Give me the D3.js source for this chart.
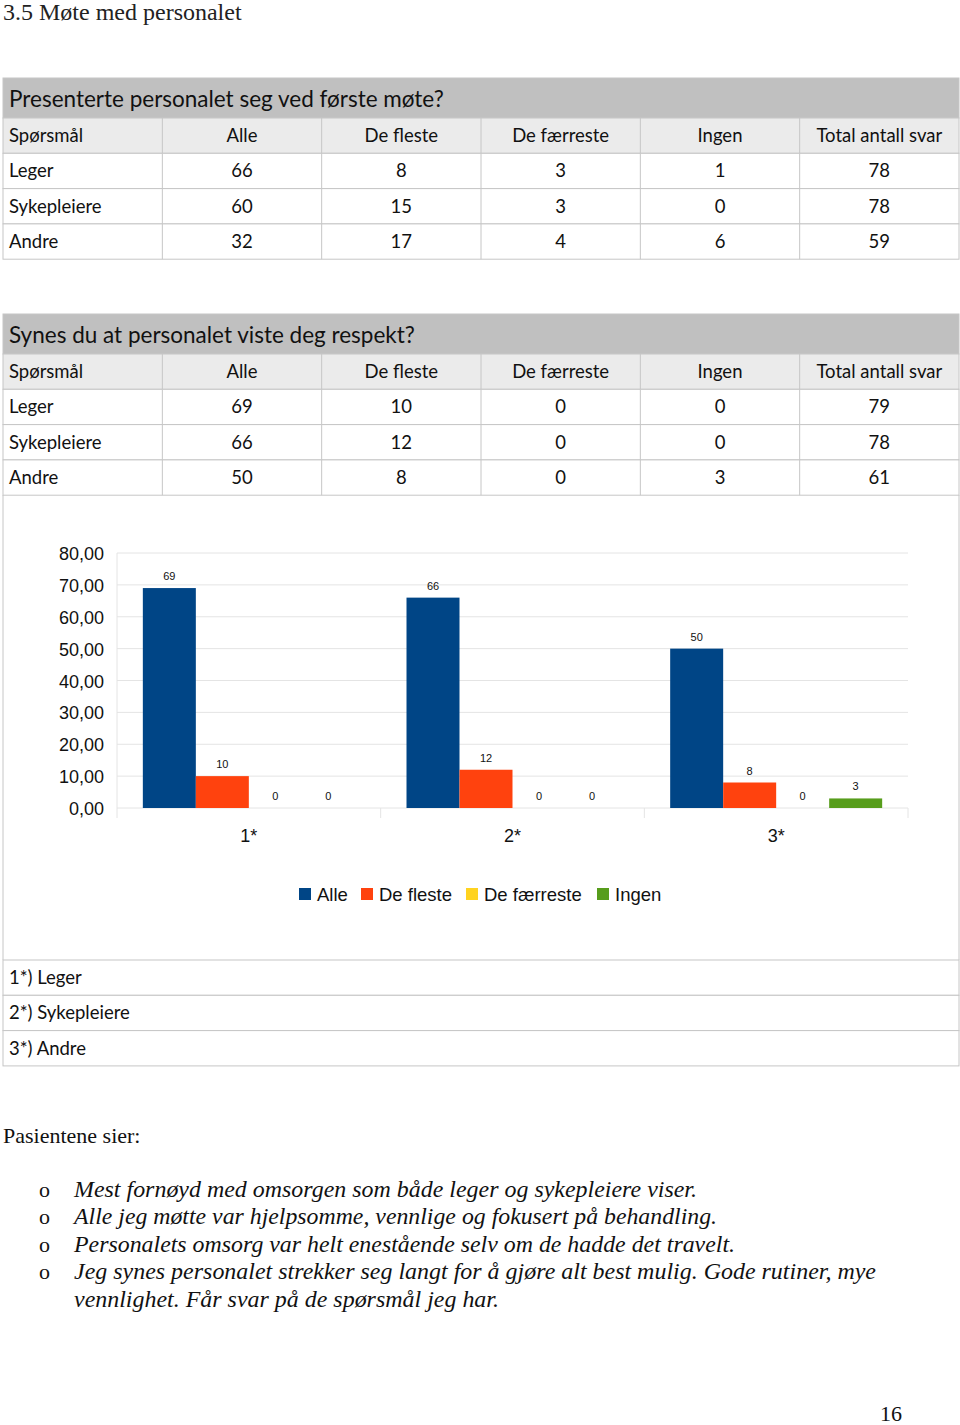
<!DOCTYPE html>
<html><head><meta charset="utf-8">
<script src="https://cdn.jsdelivr.net/npm/d3@7"></script>
<style>body{margin:0;background:#fff}svg{display:block}</style>
</head><body>
<script>
// ---- data ----
const columns = ["Spørsmål","Alle","De fleste","De færreste","Ingen","Total antall svar"];
const rowNames = ["Leger","Sykepleiere","Andre"];
const t1Title = "Presenterte personalet seg ved første møte?";
const t1Alle = [66,60,32], t1Fleste = [8,15,17], t1Faerreste = [3,3,4], t1Ingen = [1,0,6], t1Total = [78,78,59];
const t2Title = "Synes du at personalet viste deg respekt?";
const t2Alle = [69,66,50], t2Fleste = [10,12,8], t2Faerreste = [0,0,0], t2Ingen = [0,0,3], t2Total = [79,78,61];

const categories = ["1*","2*","3*"];
const seriesNames = ["Alle","De fleste","De færreste","Ingen"];
const seriesColors = ["#004586","#ff420e","#ffd320","#579d1c"];
const chartAlle = [69,66,50], chartFleste = [10,12,8], chartFaerreste = [0,0,0], chartIngen = [0,0,3];
const yTicks = [0,10,20,30,40,50,60,70,80];
const footnotes = ["1*) Leger","2*) Sykepleiere","3*) Andre"];
const quotes = [
 "Mest fornøyd med omsorgen som både leger og sykepleiere viser.",
 "Alle jeg møtte var hjelpsomme, vennlige og fokusert på behandling.",
 "Personalets omsorg var helt enestående selv om de hadde det travelt.",
 "Jeg synes personalet strekker seg langt for å gjøre alt best mulig. Gode rutiner, mye",
 "vennlighet. Får svar på de spørsmål jeg har."
];

const W = 960, H = 1425;
const svg = d3.select("body").append("svg").attr("width",W).attr("height",H);
const tableFont = "Lato, 'Open Sans', sans-serif";
const serif = "'Liberation Serif', 'DejaVu Serif', serif";
const border = "#c6c6c6";

svg.append("text").attr("x",3).attr("y",20).attr("font-family",serif).attr("font-size",24)
  .attr("fill","#222").text("3.5 Møte med personalet");

const colX = d3.range(7).map(i => 3 + i*(956/6));

function drawTable(top, title, cols) {
  const g = svg.append("g");
  g.append("rect").attr("x",3).attr("y",top).attr("width",956).attr("height",40).attr("fill","#c0c0c0").attr("stroke",border);
  g.append("text").attr("x",9).attr("y",top+29).attr("font-family",tableFont).attr("font-size",22.5).attr("fill","#111").text(title);
  const rowsTop = top+40;
  const rh = 35.3;
  const all = [columns].concat(rowNames.map((r,i)=>[r].concat(cols.map(c=>c[i]))));
  all.forEach((row,ri)=>{
    const y = rowsTop + ri*rh;
    g.append("rect").attr("x",3).attr("y",y).attr("width",956).attr("height",rh)
      .attr("fill", ri===0 ? "#ebebeb" : "#fff").attr("stroke",border);
    row.forEach((v,ci)=>{
      if (ci>0) g.append("line").attr("x1",colX[ci]).attr("x2",colX[ci]).attr("y1",y).attr("y2",y+rh).attr("stroke",border);
      g.append("text").attr("x", ci===0 ? 9 : (colX[ci]+colX[ci+1])/2).attr("y",y+24)
        .attr("text-anchor", ci===0 ? "start" : "middle")
        .attr("font-family",tableFont).attr("font-size",18.5).attr("fill","#111").text(v);
    });
  });
}
drawTable(78, t1Title, [t1Alle,t1Fleste,t1Faerreste,t1Ingen,t1Total]);
drawTable(314, t2Title, [t2Alle,t2Fleste,t2Faerreste,t2Ingen,t2Total]);

// chart box borders
svg.append("line").attr("x1",3).attr("x2",3).attr("y1",495).attr("y2",960).attr("stroke",border);
svg.append("line").attr("x1",959).attr("x2",959).attr("y1",495).attr("y2",960).attr("stroke",border);

// ---- chart ----
const chartFont = "'Liberation Sans', Arial, sans-serif";
const x0 = d3.scaleBand().domain(categories).range([117,908]).paddingInner(0).paddingOuter(0);
const x1 = d3.scaleBand().domain(seriesNames).range([0,x0.bandwidth()]).paddingInner(0).paddingOuter(0.4875);
const y = d3.scaleLinear().domain([0,80]).range([808,553]);
const cg = svg.append("g");
cg.selectAll("line.grid").data(yTicks).join("line").attr("class","grid")
  .attr("x1",117).attr("x2",908).attr("y1",d=>y(d)).attr("y2",d=>y(d)).attr("stroke","#e4e4e4");
cg.append("line").attr("x1",117).attr("x2",117).attr("y1",553).attr("y2",818).attr("stroke","#e4e4e4");
categories.forEach(c=>{
  const xe = x0(c)+x0.bandwidth();
  cg.append("line").attr("x1",xe).attr("x2",xe).attr("y1",y(0)).attr("y2",y(0)+10).attr("stroke","#e4e4e4");
});
// y labels
cg.selectAll("text.yl").data(yTicks).join("text").attr("class","yl")
  .attr("x",104).attr("y",d=>y(d)+7).attr("text-anchor","end").attr("font-family",chartFont).attr("font-size",18)
  .attr("fill","#111").text(d=>d3.format(".2f")(d).replace(".",","));
// category labels
cg.selectAll("text.cl").data(categories).join("text").attr("class","cl")
  .attr("x",d=>x0(d)+x0.bandwidth()/2).attr("y",y(0)+34).attr("text-anchor","middle")
  .attr("font-family",chartFont).attr("font-size",18).attr("fill","#111").text(d=>d);
const seriesVals = [chartAlle, chartFleste, chartFaerreste, chartIngen];
const barData = [];
categories.forEach((c,ci)=>seriesNames.forEach((s,si)=>barData.push({c,s,si,v:seriesVals[si][ci]})));
cg.selectAll("rect.bar").data(barData).join("rect").attr("class","bar")
  .attr("x",d=>x0(d.c)+x1(d.s)).attr("width",x1.bandwidth())
  .attr("y",d=>y(d.v)).attr("height",d=>y(0)-y(d.v)).attr("fill",d=>seriesColors[d.si]);
cg.selectAll("text.vl").data(barData).join("text").attr("class","vl")
  .attr("x",d=>x0(d.c)+x1(d.s)+x1.bandwidth()/2).attr("y",d=>y(d.v)-8).attr("text-anchor","middle")
  .attr("font-family",chartFont).attr("font-size",11).attr("fill","#111").text(d=>d.v);
// legend
const legX = [299,361,466,597];
seriesNames.forEach((s,i)=>{
  cg.append("rect").attr("x",legX[i]).attr("y",888).attr("width",12).attr("height",12).attr("fill",seriesColors[i]);
  cg.append("text").attr("x",legX[i]+18).attr("y",901).attr("font-family",chartFont).attr("font-size",18.5)
    .attr("fill","#111").text(s);
});

// footnote table
footnotes.forEach((f,i)=>{
  const yy = 960 + i*35.3;
  svg.append("rect").attr("x",3).attr("y",yy).attr("width",956).attr("height",35.3).attr("fill","#fff").attr("stroke",border);
  svg.append("text").attr("x",9).attr("y",yy+24).attr("font-family",tableFont).attr("font-size",18.5).attr("fill","#111").text(f);
});

// quotes
svg.append("text").attr("x",3).attr("y",1143).attr("font-family",serif).attr("font-size",22).attr("fill","#111").text("Pasientene sier:");
const qLen = [623,643,661,802,425];
const qY = [1197,1224,1252,1279,1307];
quotes.forEach((q,i)=>{
  if (i<4) svg.append("text").attr("x",39).attr("y",qY[i]).attr("font-family",serif).attr("font-size",22).attr("fill","#111").text("o");
  svg.append("text").attr("x",74).attr("y",qY[i]).attr("font-family",serif).attr("font-size",24).attr("font-style","italic")
    .attr("fill","#111").attr("textLength",qLen[i]).attr("lengthAdjust","spacingAndGlyphs").text(q);
});
svg.append("text").attr("x",880).attr("y",1421).attr("font-family",serif).attr("font-size",22).attr("fill","#111").text("16");
</script>
</body></html>
